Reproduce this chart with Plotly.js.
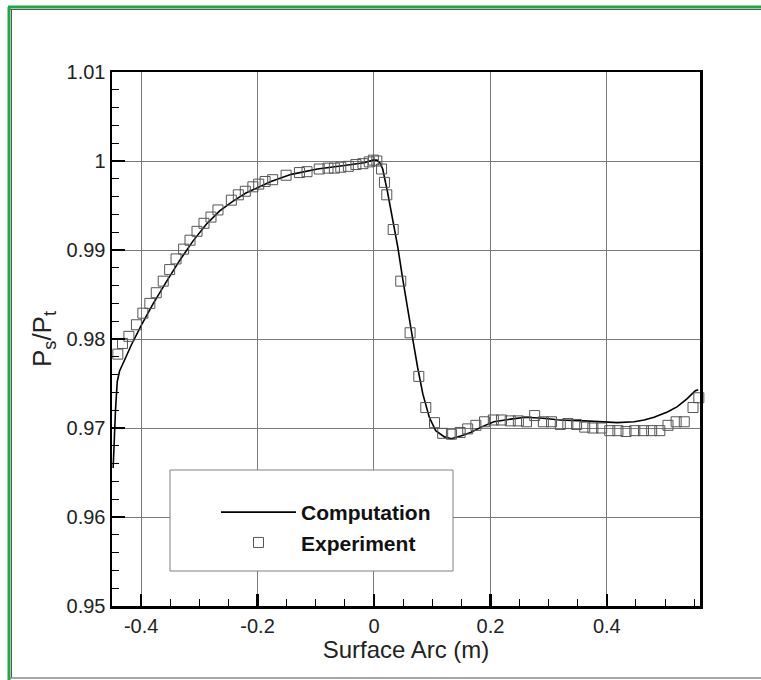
<!DOCTYPE html>
<html>
<head>
<meta charset="utf-8">
<script src="https://cdn.plot.ly/plotly-3.0.1.min.js"></script>
<style>
html,body{margin:0;padding:0;background:#fff;}
#chart{width:761px;height:680px;}
</style>
</head>
<body>
<div id="chart"></div>
<script>
// Computation (CFD) curve
const compX = [-0.448,-0.446,-0.444,-0.441,-0.437,-0.428,-0.417,-0.400,-0.380,-0.357,-0.334,-0.311,-0.288,-0.265,-0.242,-0.220,-0.191,-0.177,-0.142,-0.097,-0.051,-0.017,-0.002,0.005,0.010,0.015,0.023,0.032,0.041,0.049,0.058,0.066,0.075,0.084,0.095,0.106,0.121,0.133,0.149,0.166,0.184,0.206,0.235,0.260,0.290,0.320,0.361,0.389,0.418,0.447,0.464,0.481,0.504,0.521,0.538,0.552,0.557];
const compY = [0.9655,0.9690,0.9720,0.9752,0.9764,0.9777,0.9793,0.9815,0.9839,0.9864,0.9888,0.9910,0.9929,0.9944,0.9955,0.9964,0.9973,0.9977,0.9985,0.9991,0.9995,0.9998,1.0001,1.0001,0.9998,0.9991,0.9966,0.9936,0.9903,0.9869,0.9836,0.9802,0.9768,0.9738,0.9712,0.9697,0.9690,0.9688,0.9691,0.9695,0.9701,0.9707,0.9710,0.9712,0.9711,0.9709,0.9708,0.9707,0.9706,0.9707,0.9709,0.9712,0.9718,0.9724,0.9733,0.9742,0.9743];

// Experiment points
const expX = [-0.440,-0.432,-0.421,-0.408,-0.397,-0.385,-0.374,-0.362,-0.351,-0.340,-0.327,-0.316,-0.304,-0.292,-0.280,-0.268,-0.245,-0.233,-0.221,-0.208,-0.198,-0.187,-0.174,-0.151,-0.128,-0.115,-0.094,-0.079,-0.068,-0.057,-0.044,-0.031,-0.019,-0.008,-0.001,0.005,0.013,0.018,0.022,0.033,0.046,0.062,0.077,0.089,0.104,0.118,0.133,0.148,0.161,0.175,0.190,0.205,0.219,0.234,0.248,0.262,0.276,0.291,0.305,0.320,0.333,0.348,0.362,0.376,0.391,0.405,0.419,0.433,0.448,0.463,0.477,0.491,0.505,0.519,0.533,0.548,0.558];
const expY = [0.9783,0.9795,0.9803,0.9816,0.9829,0.9840,0.9852,0.9865,0.9878,0.9890,0.9901,0.9911,0.9921,0.9930,0.9937,0.9945,0.9956,0.9962,0.9966,0.9971,0.9974,0.9977,0.9979,0.9984,0.9987,0.9988,0.9991,0.9992,0.9992,0.9993,0.9994,0.9996,0.9997,0.9999,1.0001,1.0000,0.9991,0.9976,0.9962,0.9923,0.9865,0.9807,0.9758,0.9723,0.9706,0.9694,0.9693,0.9695,0.9699,0.9703,0.9707,0.9709,0.9709,0.9708,0.9708,0.9707,0.9714,0.9707,0.9707,0.9704,0.9705,0.9704,0.9701,0.9700,0.9700,0.9697,0.9697,0.9696,0.9697,0.9697,0.9697,0.9697,0.9703,0.9707,0.9707,0.9723,0.9734];

// Tick labels
const xTickVals = [-0.4,-0.2,0,0.2,0.4];
const xTickText = ["-0.4","-0.2","0","0.2","0.4"];
const yTickVals = [0.95,0.96,0.97,0.98,0.99,1.0,1.01];
const yTickText = ["0.95","0.96","0.97","0.98","0.99","1","1.01"];

const W = 761, H = 680;
const M = {l:112, r:61, t:72, b:74};
const PW = W - M.l - M.r, PH = H - M.t - M.b;
const px = p => (p - M.l) / PW;
const py = p => (H - M.b - p) / PH;

const FONT = 'Arial, "Liberation Sans", sans-serif';

const traces = [
  {
    x: compX, y: compY, type: 'scatter', mode: 'lines', name: 'Computation',
    line: {color: '#000', width: 1.6}
  },
  {
    x: expX, y: expY, type: 'scatter', mode: 'markers', name: 'Experiment',
    cliponaxis: false,
    marker: {symbol: 'square-open', size: 10, color: '#555', line: {width: 1, color: '#555'}}
  }
];

const layout = {
  width: W, height: H,
  margin: M,
  paper_bgcolor: '#fff', plot_bgcolor: '#fff',
  font: {family: FONT, color: '#222'},
  showlegend: true,
  legend: {
    x: px(216), y: py(492), xanchor: 'left', yanchor: 'top',
    bgcolor: 'rgba(0,0,0,0)', borderwidth: 0,
    itemwidth: 75,
    font: {family: FONT, size: 21, color: '#111', weight: 'bold'},
    tracegroupgap: 0
  },
  xaxis: {
    range: [-0.45, 0.56],
    tickmode: 'array', tickvals: xTickVals, ticktext: xTickText,
    ticks: 'inside', ticklen: 12, tickwidth: 2.5, tickcolor: '#000',
    minor: {dtick: 0.05, tick0: 0, ticks: 'inside', ticklen: 7, tickwidth: 1, tickcolor: '#000', showgrid: false},
    showgrid: true, gridcolor: '#7a7a7a', gridwidth: 1,
    showline: true, linecolor: '#000', linewidth: 2.5, mirror: true,
    zeroline: false,
    tickfont: {family: FONT, size: 20, color: '#222'},
    title: {text: 'Surface Arc (m)', font: {family: FONT, size: 24, color: '#222'}, standoff: 6}
  },
  yaxis: {
    range: [0.95, 1.01],
    tickmode: 'array', tickvals: yTickVals, ticktext: yTickText,
    ticks: 'inside', ticklen: 13, tickwidth: 2.5, tickcolor: '#000',
    minor: {dtick: 0.002, tick0: 0.95, ticks: 'inside', ticklen: 7, tickwidth: 1, tickcolor: '#000', showgrid: false},
    showgrid: true, gridcolor: '#7a7a7a', gridwidth: 1,
    showline: true, linecolor: '#000', linewidth: 2.5, mirror: true,
    zeroline: false,
    tickfont: {family: FONT, size: 20, color: '#222'},
    title: {text: 'P<sub>s</sub>/P<sub>t</sub>', font: {family: FONT, size: 26, color: '#222'}, standoff: 8}
  },
  shapes: [
    // legend frame
    {type: 'rect', xref: 'paper', yref: 'paper', x0: px(170), x1: px(453), y0: py(571), y1: py(470),
     line: {color: '#808080', width: 1}, fillcolor: '#fff', layer: 'above'},
    // outer page frame
    {type: 'line', xref: 'paper', yref: 'paper', x0: px(8), x1: px(761), y0: py(7), y1: py(7),
     line: {color: '#1fa843', width: 3}},
    {type: 'line', xref: 'paper', yref: 'paper', x0: px(10), x1: px(761), y0: py(9.5), y1: py(9.5),
     line: {color: '#555', width: 1}},
    {type: 'line', xref: 'paper', yref: 'paper', x0: px(9), x1: px(9), y0: py(7), y1: py(680),
     line: {color: '#1fa843', width: 3}},
    {type: 'line', xref: 'paper', yref: 'paper', x0: px(11.5), x1: px(11.5), y0: py(9), y1: py(678),
     line: {color: '#555', width: 1}},
    {type: 'line', xref: 'paper', yref: 'paper', x0: px(10), x1: px(761), y0: py(678), y1: py(678),
     line: {color: '#888', width: 1.5}}
  ]
};

Plotly.newPlot('chart', traces, layout, {displayModeBar: false, staticPlot: true});
</script>
</body>
</html>
